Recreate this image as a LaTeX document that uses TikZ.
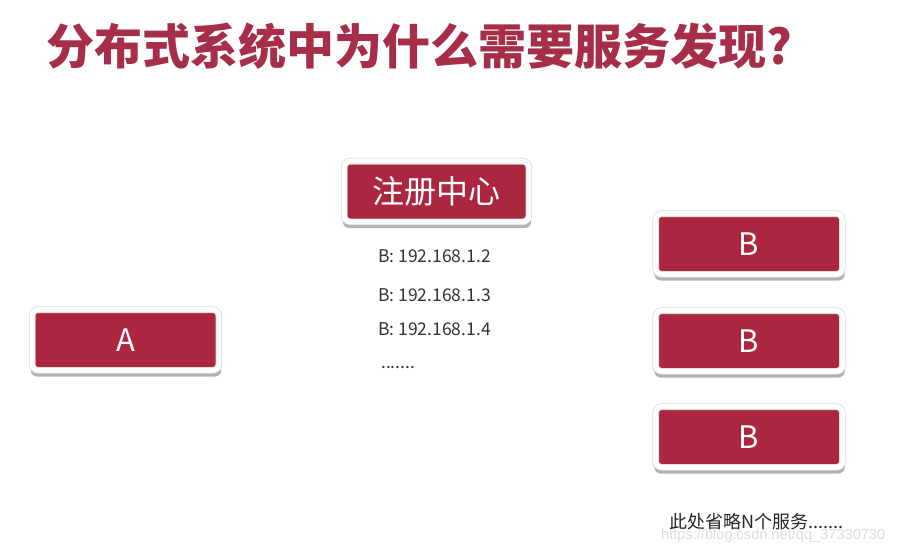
\documentclass[tikz,border=0pt]{standalone}
\usepackage{fontspec}
\setmainfont{Noto Sans CJK SC}
\newfontfamily\wmfont{Liberation Sans}
\usetikzlibrary{shadows}
\definecolor{boxred}{HTML}{AD2640}
\definecolor{titlered}{HTML}{A62E48}
\definecolor{iptext}{HTML}{333333}
\begin{document}
\begin{tikzpicture}[x=1pt,y=-1pt,
  redbox/.style={draw=black!14, double=white, double distance=5pt, line width=0.8pt,
    fill=boxred, rounded corners=6pt,
    drop shadow={shadow xshift=0.5pt, shadow yshift=-5.5pt, shadow scale=1.02, opacity=0.3, fill=black},
    text=white, inner sep=0pt, minimum width=186.6pt, minimum height=60.6pt,
    font=\fontsize{31}{33}\selectfont},
  iplabel/.style={anchor=west, text=iptext, font=\fontsize{17.5}{19}\selectfont, inner sep=0pt}]
\fill[white] (0,0) rectangle (913,554);
\useasboundingbox (0,0) rectangle (913,554);
\node[anchor=west, text=titlered, font=\fontsize{48}{52}\selectfont\bfseries, inner sep=0pt] (title) at (46,46) {分布式系统中为什么需要服务发现?};
\node[redbox, minimum width=184.6pt, font=\fontsize{32}{34}\selectfont] (reg) at (436.5,191.5) {注册中心};
\node[iplabel] (ip1) at (378,256) {B: 192.168.1.2};
\node[iplabel] (ip2) at (378,295) {B: 192.168.1.3};
\node[iplabel] (ip3) at (378,329) {B: 192.168.1.4};
\node[iplabel] (ipmore) at (381,368) {.......};
\node[redbox] (a) at (125.5,340) {A};
\node[redbox] (b1) at (749,244) {B};
\node[redbox] (b2) at (749,341) {B};
\node[redbox] (b3) at (749,437) {B};
\node[anchor=west, text=black!85, font=\fontsize{18}{20}\selectfont, inner sep=0pt] (more) at (669,522) {此处省略N个服务.......};
\node[anchor=west, text=black!13, font=\wmfont\fontsize{14.6}{16}\selectfont, inner sep=0pt] (wm) at (661,536) {https://blog.csdn.net/qq\_37330730};
\end{tikzpicture}
\end{document}
